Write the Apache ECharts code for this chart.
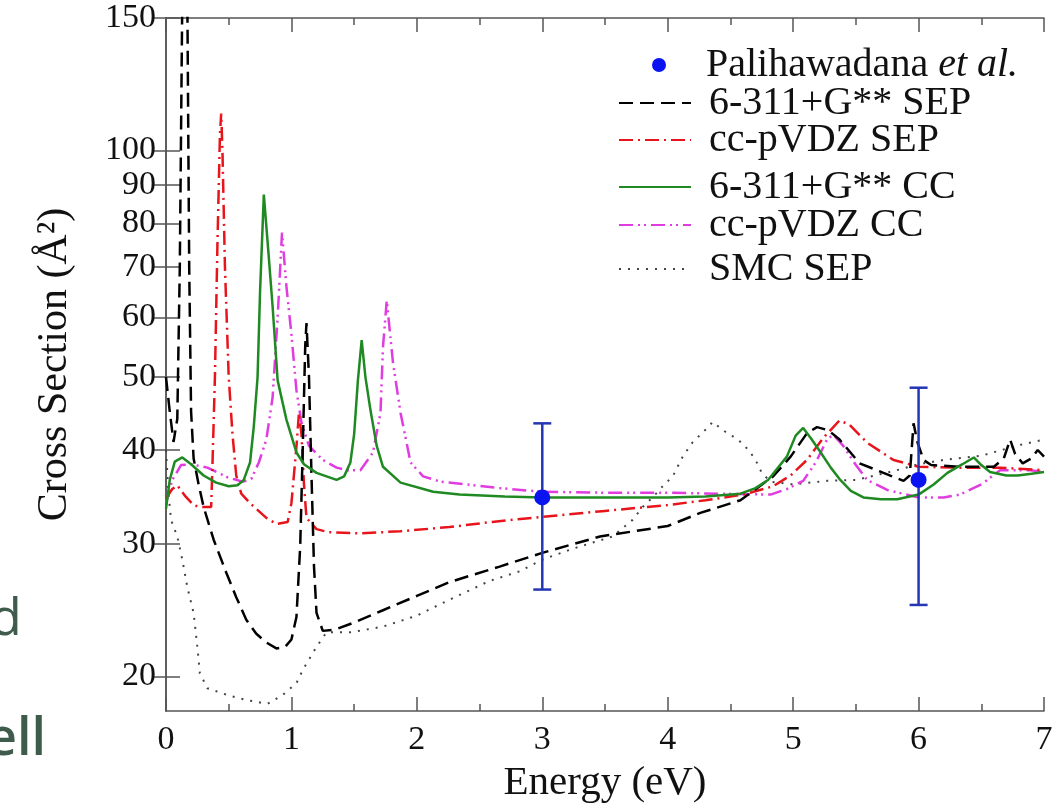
<!DOCTYPE html>
<html><head><meta charset="utf-8">
<script src="https://cdn.jsdelivr.net/npm/echarts@6/dist/echarts.min.js"></script>
<style>html,body{margin:0;padding:0;background:#fff}#c{width:1060px;height:811px}</style>
</head><body><div id="c"></div>
<script>
// ---------- data ----------
const yTickValues = [20, 30, 40, 50, 60, 70, 80, 90, 100, 150];
const xTickValues = [0, 1, 2, 3, 4, 5, 6, 7];

const expEnergy = [3, 6];
const expValue  = [34.6, 36.5];
const expLow    = [26.1, 24.9];
const expHigh   = [43.4, 48.4];

const sep6311 = [[0,50],[0.03,45],[0.06,41],[0.09,44],[0.11,70],[0.13,160],[0.15,260],[0.17,160],[0.185,70],[0.2,45],[0.22,39],[0.26,36],[0.3,33.6],[0.38,30.4],[0.48,27.5],[0.56,25.5],[0.64,23.8],[0.72,22.8],[0.8,22.2],[0.88,21.8],[0.95,21.9],[1.0,22.4],[1.04,24],[1.07,29.8],[1.09,40],[1.11,55],[1.12,59],[1.14,50],[1.16,37],[1.18,28],[1.2,24.3],[1.25,23],[1.35,23.1],[1.5,23.6],[1.73,24.5],[2.0,25.6],[2.26,26.7],[2.66,28.0],[3.0,29.2],[3.46,30.7],[4.0,31.7],[4.26,33.0],[4.58,34.3],[4.84,36.9],[4.98,39.2],[5.11,42.1],[5.19,42.9],[5.28,42.5],[5.37,41.3],[5.53,38.4],[5.72,37.3],[5.88,36.4],[5.93,37],[5.96,43.4],[5.99,41],[6.04,38.8],[6.1,38.2],[6.33,38.0],[6.6,38.0],[6.68,39],[6.73,41.3],[6.77,39.5],[6.83,38.4],[6.9,39],[6.95,40],[7.0,39.2]];

const sepPVDZ = [[0,34.5],[0.05,35.5],[0.09,35.9],[0.15,34.8],[0.22,33.8],[0.27,33.6],[0.36,33.6],[0.37,38],[0.39,50],[0.41,75],[0.43,105],[0.44,112],[0.45,100],[0.47,70],[0.5,50],[0.53,42],[0.56,37],[0.6,35],[0.67,34.0],[0.8,32.5],[0.88,31.9],[0.97,32.1],[1.0,34],[1.04,40.4],[1.06,44.8],[1.08,42],[1.1,36],[1.12,32.5],[1.2,31.4],[1.3,31.1],[1.55,31.0],[1.87,31.2],[2.26,31.6],[2.6,32.1],[3.0,32.6],[3.5,33.2],[4.0,33.8],[4.3,34.3],[4.6,34.9],[4.84,35.8],[4.98,37],[5.11,38.8],[5.24,41.5],[5.37,43.8],[5.45,43.2],[5.59,40.9],[5.8,38.8],[6.0,38.0],[6.33,37.9],[6.65,37.9],[7.0,37.6]];

const cc6311 = [[0,33.4],[0.03,36.5],[0.07,38.6],[0.13,39.1],[0.2,38.3],[0.3,37],[0.4,36.2],[0.5,35.8],[0.57,35.9],[0.62,36.5],[0.67,38.5],[0.7,43],[0.73,50],[0.75,65],[0.78,87.4],[0.82,72],[0.85,62],[0.89,49.5],[0.96,43.9],[1.04,39.7],[1.1,38.3],[1.2,37.3],[1.36,36.5],[1.42,36.9],[1.47,38.5],[1.5,42],[1.53,49.5],[1.56,56],[1.59,50],[1.63,45.2],[1.68,40.5],[1.73,38.0],[1.87,36.2],[2.13,35.2],[2.34,34.9],[2.7,34.7],[3.0,34.6],[3.5,34.6],[4.0,34.6],[4.3,34.7],[4.58,35.0],[4.7,35.6],[4.8,36.5],[4.95,39.2],[5.02,41.8],[5.08,42.8],[5.14,41.5],[5.22,39.7],[5.3,37.9],[5.37,36.6],[5.46,35.3],[5.56,34.6],[5.7,34.4],[5.83,34.4],[6.0,34.9],[6.12,36.0],[6.23,37.3],[6.35,38.3],[6.44,39.1],[6.5,38.2],[6.57,37.4],[6.7,37.0],[6.79,37.0],[6.9,37.2],[7.0,37.4]];

const ccPVDZ = [[0,34],[0.05,36.5],[0.12,38.2],[0.2,38.3],[0.33,37.9],[0.49,36.8],[0.61,36.3],[0.68,36.6],[0.74,38.5],[0.8,41.3],[0.85,47],[0.89,60],[0.925,77.8],[0.96,66],[1.0,57],[1.04,48],[1.08,43.5],[1.14,40.5],[1.25,38.8],[1.36,37.9],[1.44,37.6],[1.55,37.6],[1.65,39.7],[1.71,44.8],[1.73,54.8],[1.76,63.2],[1.81,52.2],[1.87,44.8],[1.95,38.5],[2.05,36.9],[2.19,36.3],[2.4,36.0],[2.66,35.6],[3.0,35.2],[3.5,35.1],[4.0,35.1],[4.4,35.0],[4.82,34.9],[4.95,35.5],[5.08,36.4],[5.18,38.5],[5.27,41.3],[5.32,41.9],[5.4,40.5],[5.5,38.2],[5.59,36.5],[5.75,35.4],[6.0,34.6],[6.2,34.6],[6.33,34.9],[6.5,36],[6.65,37.6],[6.89,37.6],[7.0,37.4]];

const smcSEP = [[0,40],[0.02,35],[0.04,32.3],[0.09,30.7],[0.13,28.6],[0.17,26.3],[0.22,24.3],[0.25,21.9],[0.27,20.2],[0.33,19.3],[0.49,18.9],[0.65,18.6],[0.81,18.4],[0.93,18.9],[1.04,19.6],[1.09,20.4],[1.2,21.9],[1.28,22.9],[1.47,22.9],[1.73,23.3],[2.0,24.1],[2.26,25.3],[2.58,26.8],[2.82,27.6],[3.0,28.6],[3.25,29.6],[3.56,30.7],[3.72,32.3],[3.8,33.6],[3.88,34.6],[3.96,35.8],[4.04,36.9],[4.12,39.2],[4.2,41.0],[4.28,42.2],[4.36,43.6],[4.44,42.5],[4.52,41.7],[4.59,40.9],[4.66,39.7],[4.71,38.5],[4.75,37.3],[4.82,36.3],[5.0,36.0],[5.27,36.4],[5.5,36.5],[5.8,37.5],[6.0,38.3],[6.2,38.8],[6.5,39.3],[6.8,40.6],[7.0,41.3]];

const seriesNames = ['Palihawadana et al.', '6-311+G** SEP', 'cc-pVDZ SEP', '6-311+G** CC', 'cc-pVDZ CC', 'SMC SEP'];

// ---------- chart ----------
const FONT = '"Liberation Serif", "Times New Roman", serif';
const chart = echarts.init(document.getElementById('c'), null, {renderer: 'canvas'});

const axisLineStyle = {color: '#555', width: 1.5};
const legendTops = [40, 78, 115, 162, 200, 244];
const legendLefts = [647, 613, 613, 613, 613, 613];
const legendPads = [6, 13, 13, 13, 13, 13];

const option = {
  backgroundColor: '#fff',
  animation: false,
  grid: {left: 166, right: 16, top: 18, bottom: 100},
  xAxis: [{
    type: 'value', min: 0, max: 7, interval: 1,
    name: 'Energy (eV)', nameLocation: 'middle', nameGap: 52,
    nameTextStyle: {fontFamily: FONT, fontSize: 41, color: '#111'},
    axisLine: {lineStyle: axisLineStyle},
    axisTick: {inside: true, length: 14, lineStyle: axisLineStyle},
    minorTick: {show: true, splitNumber: 2, length: 7, lineStyle: axisLineStyle},
    axisLabel: {fontFamily: FONT, fontSize: 34, color: '#111', margin: 12},
    splitLine: {show: false}
  }, {
    type: 'value', min: 0, max: 7, interval: 1, position: 'top',
    axisLine: {lineStyle: axisLineStyle},
    axisTick: {inside: true, length: 14, lineStyle: axisLineStyle},
    minorTick: {show: true, splitNumber: 2, length: 7, lineStyle: axisLineStyle},
    axisLabel: {show: false}, splitLine: {show: false}
  }],
  yAxis: [{
    type: 'log', min: 18, max: 150, logBase: 10,
    name: 'Cross Section (Å²)', nameLocation: 'middle', nameGap: 90,
    nameTextStyle: {fontFamily: FONT, fontSize: 42, color: '#111'},
    axisLine: {show: true, lineStyle: axisLineStyle},
    axisTick: {show: true, inside: true, length: 14, lineStyle: axisLineStyle, customValues: yTickValues},
    axisLabel: {fontFamily: FONT, fontSize: 34, color: '#111', margin: 10, customValues: yTickValues},
    splitLine: {show: false}
  }, {
    type: 'log', min: 18, max: 150, logBase: 10, position: 'right',
    axisLine: {show: true, lineStyle: axisLineStyle},
    axisTick: {show: true, inside: true, length: 14, lineStyle: axisLineStyle, customValues: yTickValues},
    axisLabel: {show: false, customValues: yTickValues},
    splitLine: {show: false}
  }],
  legend: seriesNames.map((n, i) => ({
    data: [n], left: legendLefts[i], top: legendTops[i], orient: 'vertical',
    itemWidth: 72, itemHeight: 14, selectedMode: false,
    itemStyle: i === 0 ? {opacity: 1} : {opacity: 0},
    textStyle: {fontFamily: FONT, fontSize: 40, color: '#111', padding: [0, 0, 0, legendPads[i]],
      rich: {i: {fontFamily: FONT, fontSize: 40, fontStyle: 'italic', color: '#111'}}},
    formatter: name => name === 'Palihawadana et al.' ? 'Palihawadana {i|et al.}' : name
  })),
  graphic: [
    {type: 'text', left: -10, top: 594, style: {text: 'd', font: '52px "Open Sans"', fill: '#3e5b4c'}},
    {type: 'text', left: -13, top: 714, style: {text: 'ell', font: '600 52px "Open Sans"', fill: '#3e5b4c'}}
  ],
  series: [
    {
      name: 'Palihawadana et al.', type: 'scatter', z: 10,
      data: expEnergy.map((e, i) => [e, expValue[i]]),
      symbol: 'circle', symbolSize: 16, itemStyle: {color: '#0a14f0', opacity: 1}
    },
    {
      name: 'errorbars', type: 'custom', z: 9,
      data: expEnergy.map((e, i) => [e, expLow[i], expHigh[i]]),
      encode: {x: 0, y: [1, 2]},
      renderItem: (params, api) => {
        const x = api.value(0), lo = api.value(1), hi = api.value(2);
        const pLo = api.coord([x, lo]), pHi = api.coord([x, hi]);
        const hw = 9;
        const style = {stroke: '#2436b4', lineWidth: 2.5};
        return {type: 'group', children: [
          {type: 'line', shape: {x1: pLo[0], y1: pLo[1], x2: pHi[0], y2: pHi[1]}, style},
          {type: 'line', shape: {x1: pLo[0] - hw, y1: pLo[1], x2: pLo[0] + hw, y2: pLo[1]}, style},
          {type: 'line', shape: {x1: pHi[0] - hw, y1: pHi[1], x2: pHi[0] + hw, y2: pHi[1]}, style}
        ]};
      }
    },
    {
      name: '6-311+G** SEP', type: 'line', data: sep6311, symbol: 'none', z: 5,
      lineStyle: {color: '#000', width: 2.5, type: [14, 7]}, itemStyle: {color: '#000'}
    },
    {
      name: 'cc-pVDZ SEP', type: 'line', data: sepPVDZ, symbol: 'none', z: 4,
      lineStyle: {color: '#e8141b', width: 2.5, type: [14, 5, 2, 5]}, itemStyle: {color: '#e8141b'}
    },
    {
      name: '6-311+G** CC', type: 'line', data: cc6311, symbol: 'none', z: 6,
      lineStyle: {color: '#1f8a22', width: 2.5}, itemStyle: {color: '#1f8a22'}
    },
    {
      name: 'cc-pVDZ CC', type: 'line', data: ccPVDZ, symbol: 'none', z: 3,
      lineStyle: {color: '#e03ce0', width: 2.5, type: [14, 5, 2, 4, 2, 5]}, itemStyle: {color: '#e03ce0'}
    },
    {
      name: 'SMC SEP', type: 'line', data: smcSEP, symbol: 'none', z: 2,
      lineStyle: {color: '#444', width: 2, type: [2, 7]}, itemStyle: {color: '#444'}
    }
  ]
};
chart.setOption(option);
</script>
</body></html>
